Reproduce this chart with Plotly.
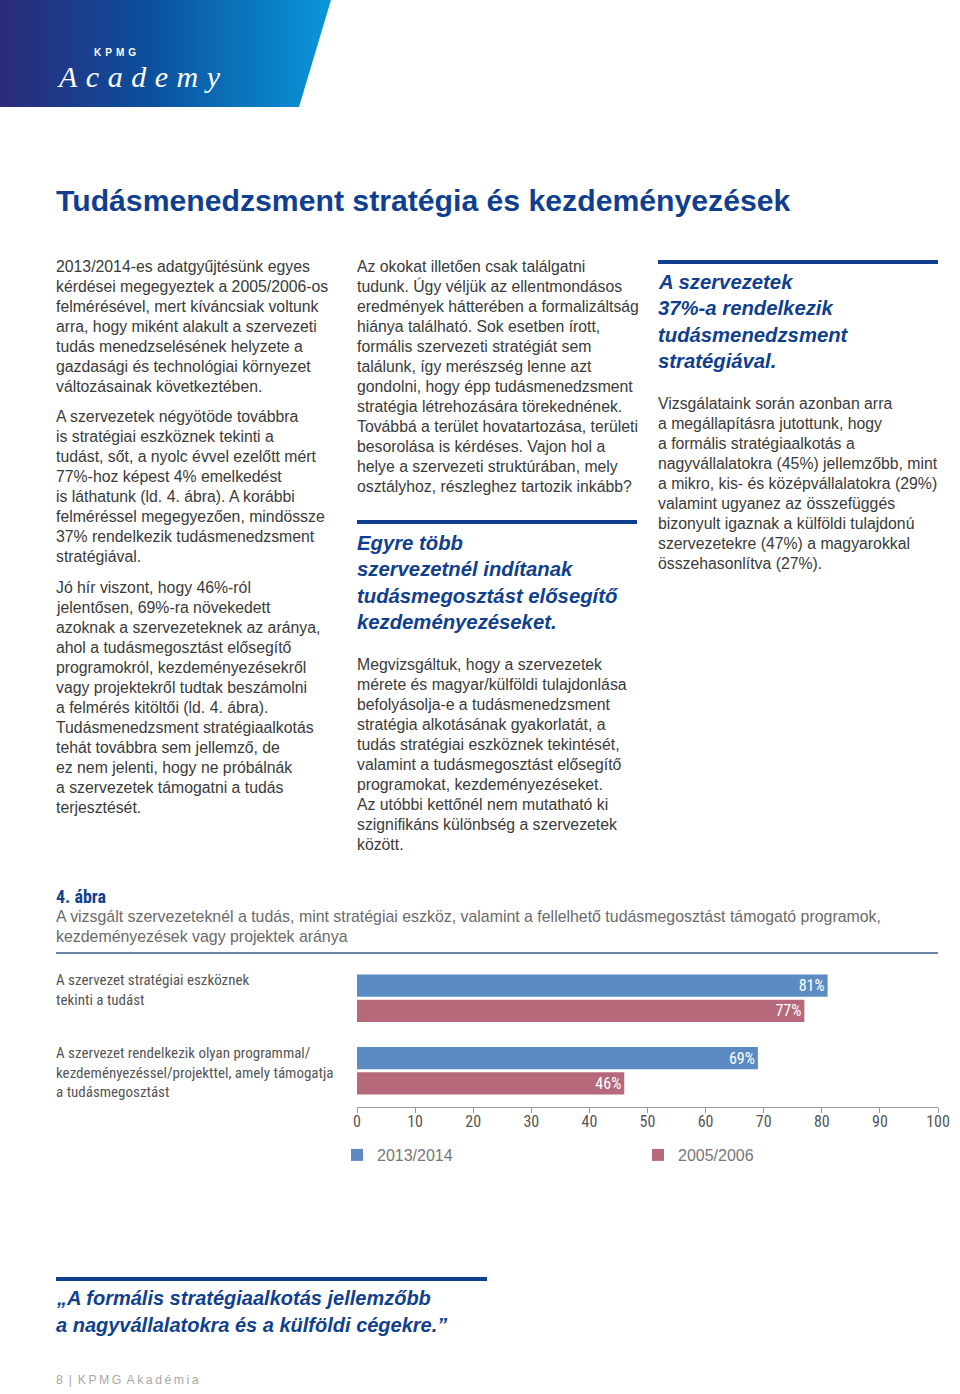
import plotly.graph_objects as go

W, H = 960, 1394

# ---------------- chart data ----------------
categories = ["A szervezet stratégiai eszköznek<br>tekinti a tudást",
              "A szervezet rendelkezik olyan programmal/<br>kezdeményezéssel/projekttel, amely támogatja<br>a tudásmegosztást"]
cat_keys = ["strat", "prog"]
series_names = ["2013/2014", "2005/2006"]
values_2013 = [81, 69]
values_2005 = [77, 46]
x_ticks = [0, 10, 20, 30, 40, 50, 60, 70, 80, 90, 100]

BLUE = "#5c8bc3"
RED = "#b7697c"
NAVY = "#0f3f8e"
TEXT = "#3a3a3a"
NARROW = "Liberation Sans Narrow, Arial Narrow, Roboto Condensed, sans-serif"
SANS = "Liberation Sans, Arial, sans-serif"

# ---------------- page text ----------------
col1_p1 = ["2013/2014-es adatgyűjtésünk egyes",
           "kérdései megegyeztek a 2005/2006-os",
           "felmérésével, mert kíváncsiak voltunk",
           "arra, hogy miként alakult a szervezeti",
           "tudás menedzselésének helyzete a",
           "gazdasági és technológiai környezet",
           "változásainak következtében."]
col1_p2 = ["A szervezetek négyötöde továbbra",
           "is stratégiai eszköznek tekinti a",
           "tudást, sőt, a nyolc évvel ezelőtt mért",
           "77%-hoz képest 4% emelkedést",
           "is láthatunk (ld. 4. ábra). A korábbi",
           "felméréssel megegyezően, mindössze",
           "37% rendelkezik tudásmenedzsment",
           "stratégiával."]
col1_p3 = ["Jó hír viszont, hogy 46%-ról",
           "jelentősen, 69%-ra növekedett",
           "azoknak a szervezeteknek az aránya,",
           "ahol a tudásmegosztást elősegítő",
           "programokról, kezdeményezésekről",
           "vagy projektekről tudtak beszámolni",
           "a felmérés kitöltői (ld. 4. ábra).",
           "Tudásmenedzsment stratégiaalkotás",
           "tehát továbbra sem jellemző, de",
           "ez nem jelenti, hogy ne próbálnák",
           "a szervezetek támogatni a tudás",
           "terjesztését."]
col2_p1 = ["Az okokat illetően csak találgatni",
           "tudunk. Úgy véljük az ellentmondásos",
           "eredmények hátterében a formalizáltság",
           "hiánya található. Sok esetben írott,",
           "formális szervezeti stratégiát sem",
           "találunk, így merészség lenne azt",
           "gondolni, hogy épp tudásmenedzsment",
           "stratégia létrehozására törekednének.",
           "Továbbá a terület hovatartozása, területi",
           "besorolása is kérdéses. Vajon hol a",
           "helye a szervezeti struktúrában, mely",
           "osztályhoz, részleghez tartozik inkább?"]
col2_head = ["Egyre több", "szervezetnél indítanak",
             "tudásmegosztást elősegítő", "kezdeményezéseket."]
col2_p2 = ["Megvizsgáltuk, hogy a szervezetek",
           "mérete és magyar/külföldi tulajdonlása",
           "befolyásolja-e a tudásmenedzsment",
           "stratégia alkotásának gyakorlatát, a",
           "tudás stratégiai eszköznek tekintését,",
           "valamint a tudásmegosztást elősegítő",
           "programokat, kezdeményezéseket.",
           "Az utóbbi kettőnél nem mutatható ki",
           "szignifikáns különbség a szervezetek",
           "között."]
col3_head = ["A szervezetek", "37%-a rendelkezik",
             "tudásmenedzsment", "stratégiával."]
col3_p1 = ["Vizsgálataink során azonban arra",
           "a megállapításra jutottunk, hogy",
           "a formális stratégiaalkotás a",
           "nagyvállalatokra (45%) jellemzőbb, mint",
           "a mikro, kis- és középvállalatokra (29%)",
           "valamint ugyanez az összefüggés",
           "bizonyult igaznak a külföldi tulajdonú",
           "szervezetekre (47%) a magyarokkal",
           "összehasonlítva (27%)."]
caption_lines = ["A vizsgált szervezeteknél a tudás, mint stratégiai eszköz, valamint a fellelhető tudásmegosztást támogató programok,",
                 "kezdeményezések vagy projektek aránya"]
quote_lines = ["„A formális stratégiaalkotás jellemzőbb",
               "a nagyvállalatokra és a külföldi cégekre.”"]

fig = go.Figure()

# page-wide pixel axes (x2/y2)
fig.update_layout(
    xaxis2=dict(domain=[0, 1], range=[0, W], visible=False, anchor="y2", fixedrange=True),
    yaxis2=dict(domain=[0, 1], range=[H, 0], visible=False, anchor="x2", fixedrange=True),
)

# header gradient band
fig.add_trace(go.Scatter(
    x=[0, 331, 299, 0, 0], y=[0, 0, 107, 107, 0], xaxis="x2", yaxis="y2",
    mode="lines", line=dict(width=0), fill="toself",
    fillgradient=dict(type="horizontal",
                      colorscale=[[0, "#2c2a7a"], [0.45, "#0b4f9c"], [1, "#0a97db"]]),
    showlegend=False, hoverinfo="skip"))

# bars
fig.add_trace(go.Bar(
    y=cat_keys, x=values_2013, orientation="h", name=series_names[0],
    marker=dict(color=BLUE, line=dict(width=0)),
    text=[f"{v}%" for v in values_2013], textposition="inside",
    insidetextanchor="end", constraintext="none",
    textfont=dict(color="white", size=16, family=NARROW),
    xaxis="x", yaxis="y", hoverinfo="skip"))
fig.add_trace(go.Bar(
    y=cat_keys, x=values_2005, orientation="h", name=series_names[1],
    marker=dict(color=RED, line=dict(width=0)),
    text=[f"{v}%" for v in values_2005], textposition="inside",
    insidetextanchor="end", constraintext="none",
    textfont=dict(color="white", size=16, family=NARROW),
    xaxis="x", yaxis="y", hoverinfo="skip"))

fig.update_layout(
    xaxis=dict(domain=[357 / W, 938 / W], range=[0, 100], tickvals=x_ticks,
               showgrid=False, zeroline=False, showline=True, linecolor="#9a9a9a",
               linewidth=1, ticks="outside", ticklen=5, tickcolor="#9a9a9a",
               ticklabelstandoff=-5,
               tickfont=dict(family=NARROW, size=16, color="#555555"),
               anchor="y", fixedrange=True),
    yaxis=dict(domain=[1 - 1107 / H, 1 - 962 / H], range=[1.5, -0.5],
               type="category", categoryarray=cat_keys, showticklabels=False,
               showgrid=False, zeroline=False, showline=False, ticks="",
               anchor="x", fixedrange=True),
    barmode="group", bargap=0.306, bargroupgap=0.12,
)

ann = []


def text_lines(lines, x, y0, dy, size=15.8, color=TEXT, family=SANS, weight="normal", style="normal"):
    for i, s in enumerate(lines):
        ann.append(dict(x=x - 2, y=y0 + i * dy, xref="x2", yref="y2", text=s, showarrow=False,
                        xanchor="left", yanchor="middle",
                        font=dict(size=size, color=color, family=family, weight=weight, style=style)))


# logo
ann.append(dict(x=92, y=52, xref="x2", yref="y2", text="K\u2009\u2009P\u2009\u2009M\u2009\u2009G",
                showarrow=False, xanchor="left", yanchor="middle",
                font=dict(size=10, color="white", family=SANS, weight="bold")))
sp = "\u2009\u200a"
ann.append(dict(x=55, y=76, xref="x2", yref="y2",
                text=sp.join("Academy"), showarrow=False,
                xanchor="left", yanchor="middle",
                font=dict(size=30, color="white", family="Liberation Serif, serif", style="italic")))

# title
ann.append(dict(x=54, y=200, xref="x2", yref="y2",
                text="Tudásmenedzsment stratégia és kezdeményezések", showarrow=False,
                xanchor="left", yanchor="middle",
                font=dict(size=30.2, color=NAVY, family=SANS, weight="bold")))

# columns
text_lines(col1_p1, 56, 266, 20)
text_lines(col1_p2, 56, 416, 20)
text_lines(col1_p3, 56, 587, 20)
text_lines(col2_p1, 357, 266, 20)
text_lines(col2_head, 357, 543, 26.4, size=20.3, color=NAVY, weight="bold", style="italic")
text_lines(col2_p2, 357, 664, 20)
text_lines(col3_head, 658, 282, 26.4, size=20.3, color=NAVY, weight="bold", style="italic")
text_lines(col3_p1, 658, 403, 20)

# figure caption
ann.append(dict(x=54, y=896, xref="x2", yref="y2", text="4. ábra", showarrow=False,
                xanchor="left", yanchor="middle",
                font=dict(size=18, color=NAVY, family=NARROW, weight="bold")))
text_lines(caption_lines, 56, 916, 20, size=15.9, color="#6a6a6a")

# category labels (tied to category positions)
for key, lab in zip(cat_keys, categories):
    ann.append(dict(x=54 / W, y=key, xref="paper", yref="y", text=lab, showarrow=False,
                    xanchor="left", yanchor="top", align="left", yshift=29,
                    font=dict(size=15, color="#555555", family=NARROW)))

# quote
text_lines(quote_lines, 56, 1298, 27, size=20, color=NAVY, weight="bold", style="italic")

# footer
ann.append(dict(x=54, y=1380, xref="x2", yref="y2",
                text="8\u2009 |\u2009 K\u2009P\u2009M\u2009G\u2009 A\u2009k\u2009a\u2009d\u2009é\u2009m\u2009i\u2009a",
                showarrow=False, xanchor="left", yanchor="middle",
                font=dict(size=12.3, color="#a8a8a8", family=SANS)))

shapes = [
    dict(type="line", xref="x2", yref="y2", x0=357, x1=637, y0=522, y1=522,
         line=dict(color=NAVY, width=4)),
    dict(type="line", xref="x2", yref="y2", x0=658, x1=938, y0=262, y1=262,
         line=dict(color=NAVY, width=4)),
    dict(type="line", xref="x2", yref="y2", x0=56, x1=938, y0=953, y1=953,
         line=dict(color="#3d5b8c", width=1.5)),
    dict(type="line", xref="x2", yref="y2", x0=56, x1=487, y0=1279, y1=1279,
         line=dict(color=NAVY, width=4)),
]

fig.update_layout(
    width=W, height=H, margin=dict(l=0, r=0, t=0, b=0, pad=0, autoexpand=False),
    paper_bgcolor="white", plot_bgcolor="rgba(0,0,0,0)",
    annotations=ann, shapes=shapes,
    showlegend=True,
    legend=dict(orientation="h", x=337 / W, y=1 - 1138 / H, xanchor="left", yanchor="top",
                entrywidth=256, entrywidthmode="pixels", traceorder="normal",
                font=dict(size=16, color="#777777", family=SANS),
                bgcolor="rgba(0,0,0,0)", itemclick=False, itemdoubleclick=False),
)

fig.write_html("out.html", config={"displayModeBar": False},
               post_script="document.body.style.margin='0px';document.body.style.padding='0px';")
